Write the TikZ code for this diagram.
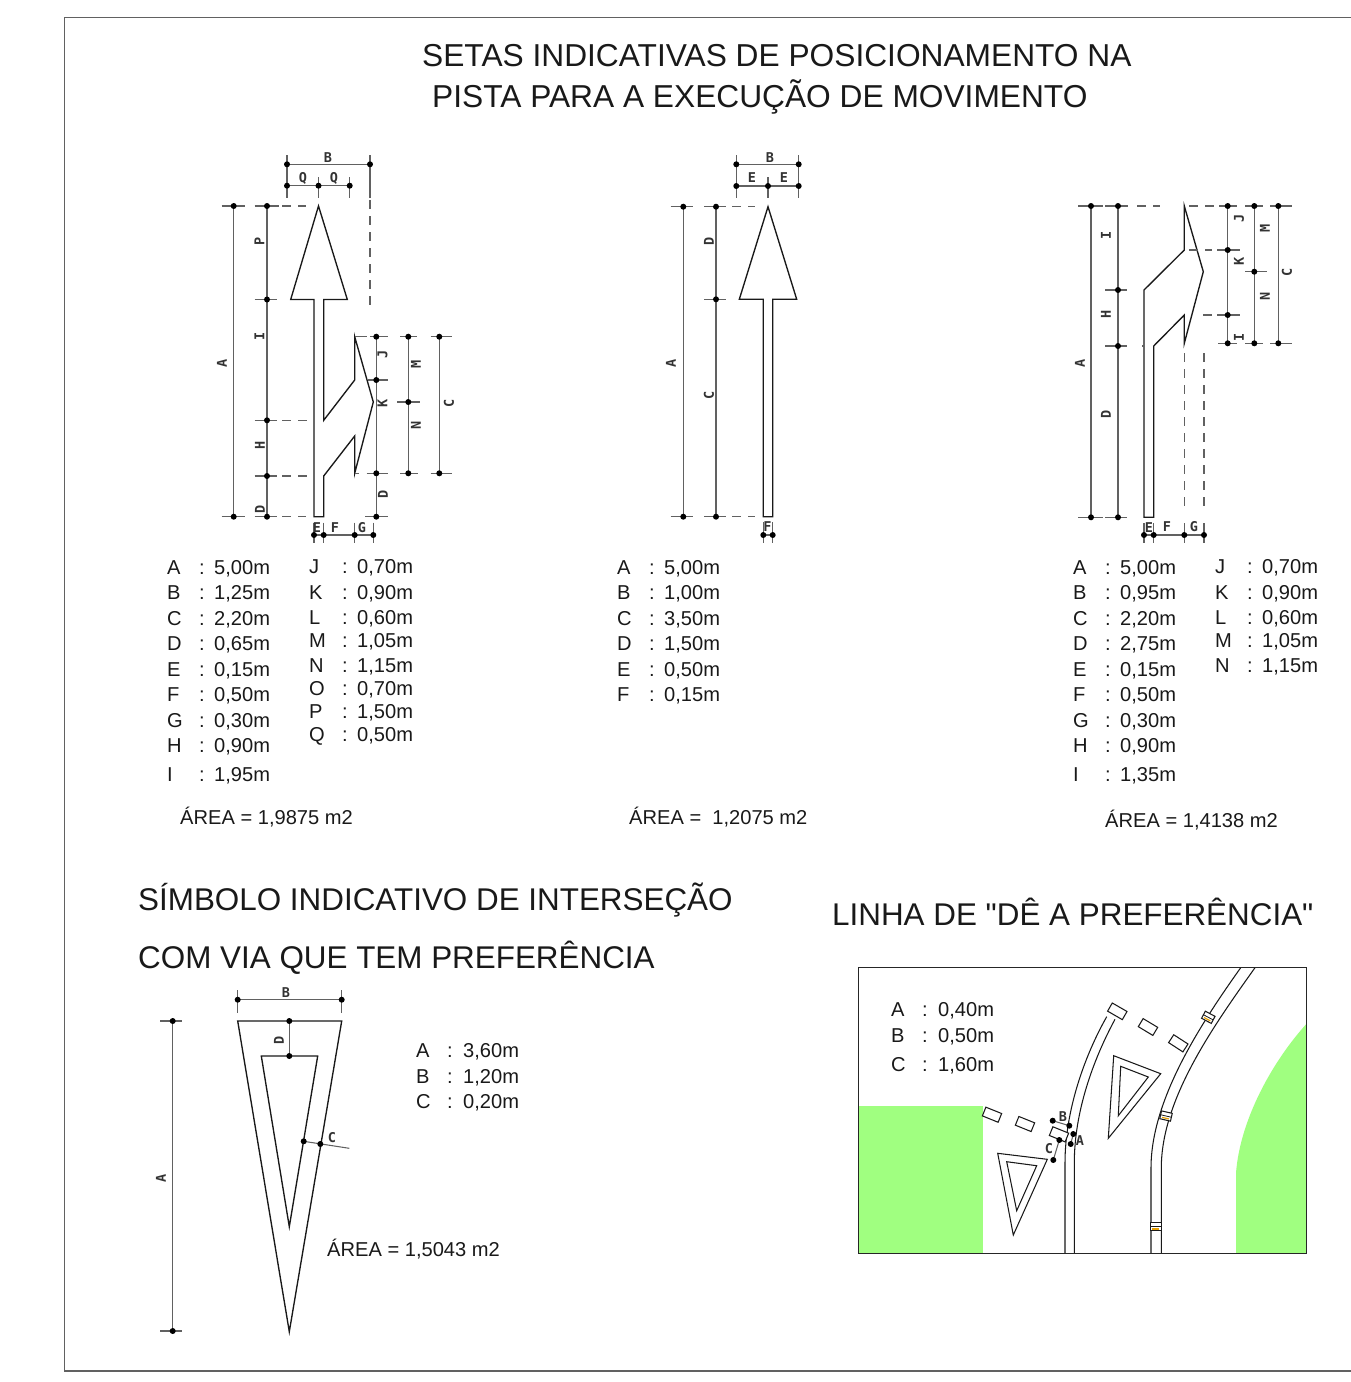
\documentclass[tikz,border=0pt]{standalone}
\usepackage{fontspec}
\setmainfont{Liberation Sans}
\newfontfamily\plainsans{Liberation Sans}
\newfontfamily\cadfont{DejaVu Sans Mono}[BoldFont={DejaVu Sans Mono Bold}]
\newcounter{nn}
\definecolor{grass}{HTML}{A0FF80}
\definecolor{amber}{HTML}{E8A000}
\tikzset{
  shape line/.style={draw=black!90,line width=1.35pt,line join=miter},
  thin shape/.style={draw=black!90,line width=1.05pt},
  dim line/.style={draw=black!62,line width=1.05pt},
  dim dash/.style={dim line,dash pattern=on 9pt off 7pt},
  cad/.style={font=\cadfont\bfseries\fontsize{13.5}{13.5}\selectfont,inner sep=0pt,text=black!80},
  cadr/.style={cad,rotate=90},
  big text/.style={font=\plainsans\fontsize{31.7}{32}\selectfont,anchor=base west,inner sep=0pt,text=black!90},
  big lower/.style={font=\plainsans\fontsize{31.4}{32}\selectfont,anchor=base west,inner sep=0pt,text=black!90},
  list text/.style={font=\plainsans\fontsize{20.1}{21}\selectfont,anchor=base west,inner sep=0pt,text=black!90},
}
\newcommand{\dotsat}[1]{\foreach \p in {#1} \fill[black] \p circle (3pt);}
\newcommand{\lst}[6]{% xletter xcolon xvalue ycentre letter value
  \stepcounter{nn}\node[list text] (l\thenn) at (#1,#4+6.5) {#5};
  \stepcounter{nn}\node[list text] (l\thenn) at (#2-1,#4+6.5) {:};
  \stepcounter{nn}\node[list text] (l\thenn) at (#3,#4+6.5) {#6};}
\newcommand{\chz}[3]{\stepcounter{nn}\node[cad] (c\thenn) at (#1,#2) {#3};}
\newcommand{\cvt}[3]{\stepcounter{nn}\node[cadr] (c\thenn) at (#1,#2) {#3};}
\newcommand{\yrect}[3]{\draw[thin shape,fill=white,shift={(#1,#2)},rotate=-#3] (-8.5,-4.7) rectangle (8.5,4.7);}
\newcommand{\stud}[3]{\begin{scope}[shift={(#1,#2)},rotate=-#3]
  \draw[thin shape,fill=white] (-5.5,-4) rectangle (5.5,4);
  \draw[thin shape,line width=.8pt] (-5.5,0) -- (5.5,0);
  \draw[amber,line width=1.2pt] (-3.5,2.2) -- (3.5,2.2);
  \end{scope}}
\begin{document}
\begin{tikzpicture}[x=1pt,y=-1pt]
\useasboundingbox (0,0) rectangle (1351,1382);
\fill[white] (0,0) rectangle (1351,1382);
% frame
\draw[dim line] (1351,17.5) -- (64.5,17.5) -- (64.5,1371) -- (1351,1371);
% titles
\node[big text] (t1) at (422,66) {SETAS INDICATIVAS DE POSICIONAMENTO NA};
\node[big text] (t2) at (432,107) {PISTA PARA A EXECUÇÃO DE MOVIMENTO};
\node[big lower] (t3) at (138,910) {SÍMBOLO INDICATIVO DE INTERSEÇÃO};
\node[big lower] (t4) at (138,968) {COM VIA QUE TEM PREFERÊNCIA};
\node[big lower] (t5) at (832,925) {LINHA DE "DÊ A PREFERÊNCIA"};
% ---------- arrow 1
\draw[shape line] (318.5,206) -- (347.3,299.5) -- (323.7,299.5) -- (323.7,420.3) -- (354.7,380) -- (354.7,336.7) -- (373.3,402) -- (354.7,473.3) -- (354.7,436) -- (323.7,476) -- (323.7,516.7) -- (314,516.7) -- (314,299.5) -- (290.7,299.5) -- cycle;
\draw[dim line] (233.7,206) -- (233.7,516.7) (221.7,206) -- (245,206) (221.7,516.7) -- (245,516.7);
\draw[dim line] (267,206) -- (267,516.7) (254.7,206) -- (279,206) (254.7,299.5) -- (276.7,299.5) (254.7,420.3) -- (277,420.3) (254.7,476) -- (277,476) (254.7,516.7) -- (277,516.7);
\draw[dim dash] (282,206) -- (306,206) (282,420.3) -- (314,420.3) (282,476) -- (314,476) (282,516.7) -- (306,516.7);
\dotsat{(233.7,206),(233.7,516.7),(267,206),(267,299.5),(267,420.3),(267,476),(267,516.7)}
\draw[dim line] (287,164.3) -- (370,164.3) (287,185.7) -- (349.7,185.7) (287,155) -- (287,198) (370,155) -- (370,198) (318.5,177) -- (318.5,198) (349.7,177) -- (349.7,198);
\draw[dim dash] (370,200) -- (370,306);
\dotsat{(287,164.3),(370,164.3),(287,185.7),(318.5,185.7),(349.7,185.7)}
\chz{328}{158}{B}\chz{303}{178}{Q}\chz{334}{178}{Q}
\cvt{222}{363}{A}\cvt{259.5}{241}{P}\cvt{259.5}{336}{I}\cvt{260}{445}{H}\cvt{260}{509}{D}
\draw[dim line] (376.3,336.7) -- (376.3,516.7) (408.3,336.7) -- (408.3,473.3) (439.3,336.7) -- (439.3,473.3);
\draw[dim line] (370,336.7) -- (388,336.7) (400,336.7) -- (417,336.7) (430.7,336.7) -- (452,336.7)
 (368,380) -- (388,380) (397,402) -- (420,402) (366.7,473.3) -- (388,473.3) (400,473.3) -- (418,473.3) (430.7,473.3) -- (452,473.3) (365,516.7) -- (388,516.7);
\draw[dim line] (355,336.7) -- (367,336.7) (355,473.3) -- (359,473.3);
\dotsat{(376.3,336.7),(376.3,380),(376.3,473.3),(376.3,516.7),(408.3,336.7),(408.3,402),(408.3,473.3),(439.3,336.7),(439.3,473.3)}
\cvt{382.5}{354}{J}\cvt{382.5}{403}{K}\cvt{416}{364}{M}\cvt{416}{425}{N}\cvt{449}{403}{C}\cvt{383}{494}{D}
\draw[dim line] (312,535) -- (376,535) (314,522.7) -- (314,543) (323.7,522.7) -- (323.7,543) (354.7,522.7) -- (354.7,543) (373.3,522.7) -- (373.3,543);
\dotsat{(314,535),(323.7,535),(354.7,535),(373.3,535)}
\chz{317}{528}{E}\chz{335}{528}{F}\chz{362}{528}{G}
\lst{167}{200}{214}{568}{A}{5,00m}\lst{167}{200}{214}{593}{B}{1,25m}\lst{167}{200}{214}{619}{C}{2,20m}
\lst{167}{200}{214}{644}{D}{0,65m}\lst{167}{200}{214}{670}{E}{0,15m}\lst{167}{200}{214}{695}{F}{0,50m}
\lst{167}{200}{214}{721}{G}{0,30m}\lst{167}{200}{214}{746}{H}{0,90m}\lst{167}{200}{214}{775}{I}{1,95m}
\lst{309}{343}{357}{567}{J}{0,70m}\lst{309}{343}{357}{593}{K}{0,90m}\lst{309}{343}{357}{618}{L}{0,60m}
\lst{309}{343}{357}{641}{M}{1,05m}\lst{309}{343}{357}{666}{N}{1,15m}\lst{309}{343}{357}{689}{O}{0,70m}
\lst{309}{343}{357}{712}{P}{1,50m}\lst{309}{343}{357}{735}{Q}{0,50m}
\node[list text] (a1) at (180,824) {ÁREA = 1,9875 m2};
% ---------- arrow 2
\draw[shape line] (768,206.7) -- (796.7,299.3) -- (772.7,299.3) -- (772.7,516.7) -- (763.3,516.7) -- (763.3,299.3) -- (739.3,299.3) -- cycle;
\draw[dim line] (683.3,206.7) -- (683.3,516.7) (670.7,206.7) -- (692.7,206.7) (670.7,516.7) -- (692.7,516.7);
\draw[dim line] (716,206.7) -- (716,516.7) (704,206.7) -- (726,206.7) (704,299.3) -- (726,299.3) (704,516.7) -- (726,516.7);
\draw[dim dash] (732,206.7) -- (755,206.7) (732,516.7) -- (755,516.7);
\dotsat{(683.3,206.7),(683.3,516.7),(716,206.7),(716,299.3),(716,516.7)}
\draw[dim line] (736.3,164.3) -- (798.7,164.3) (736.3,186) -- (798.7,186) (736.3,155) -- (736.3,198) (798.7,155) -- (798.7,198) (768,177) -- (768,198);
\dotsat{(736.3,164.3),(798.7,164.3),(736.3,186),(768,186),(798.7,186)}
\chz{770}{158}{B}\chz{752}{178}{E}\chz{784}{178}{E}
\cvt{671}{363}{A}\cvt{709}{241}{D}\cvt{709}{395}{C}
\draw[dim line] (761,535) -- (775,535) (763.3,522) -- (763.3,543) (772.7,522) -- (772.7,543);
\dotsat{(763.3,535),(772.7,535)}
\chz{767.5}{527}{F}
\lst{617}{650}{664}{568}{A}{5,00m}\lst{617}{650}{664}{593}{B}{1,00m}\lst{617}{650}{664}{619}{C}{3,50m}
\lst{617}{650}{664}{644}{D}{1,50m}\lst{617}{650}{664}{670}{E}{0,50m}\lst{617}{650}{664}{695}{F}{0,15m}
\node[list text] (a2) at (629,824) {ÁREA =\ \ 1,2075 m2};
% ---------- arrow 3
\draw[shape line] (1184.3,206) -- (1203.3,271.7) -- (1184.3,343.3) -- (1184.3,315) -- (1153.7,346) -- (1153.7,517.3) -- (1144,517.3) -- (1144,290) -- (1184.3,250) -- cycle;
\draw[dim line] (1091,206) -- (1091,517.3) (1078,206) -- (1103,206) (1078,517.3) -- (1103,517.3);
\draw[dim line] (1118,206) -- (1118,517.3) (1105,206) -- (1128,206) (1105,290) -- (1127,290) (1105,346) -- (1127,346) (1105,517.3) -- (1127,517.3);
\draw[dim line] (1142,346) -- (1144,346);
\draw[dim dash] (1137,206) -- (1160,206);
\dotsat{(1091,206),(1091,517.3),(1118,206),(1118,290),(1118,346),(1118,517.3)}
\cvt{1080}{363}{A}\cvt{1106}{235}{I}\cvt{1106}{314}{H}\cvt{1106}{414}{D}
\draw[dim dash] (1189,206) -- (1225,206) (1189,250) -- (1212,250) (1203,315) -- (1212,315);
\draw[dim line] (1227.7,206) -- (1227.7,343.3) (1254.3,206) -- (1254.3,343.3) (1278.3,206) -- (1278.3,343.3);
\draw[dim line] (1219,206) -- (1237,206) (1245,206) -- (1263,206) (1270,206) -- (1292,206)
 (1217,250) -- (1240,250) (1217,315) -- (1240,315) (1245,271.7) -- (1267,271.7)
 (1218,343.3) -- (1237,343.3) (1245,343.3) -- (1263,343.3) (1270,343.3) -- (1292,343.3);
\dotsat{(1227.7,206),(1227.7,250),(1227.7,315),(1227.7,343.3),(1254.3,206),(1254.3,271.7),(1254.3,343.3),(1278.3,206),(1278.3,343.3)}
\cvt{1239}{218}{J}\cvt{1239}{261}{K}\cvt{1239}{337}{I}\cvt{1265}{228}{M}\cvt{1265}{296}{N}\cvt{1287}{272}{C}
\draw[dim dash] (1184.3,353) -- (1184.3,507) (1204,353) -- (1204,507);
\draw[dim line] (1142,535) -- (1206,535) (1144,523) -- (1144,543) (1153.7,523) -- (1153.7,543) (1184.3,523) -- (1184.3,543) (1204,523) -- (1204,543);
\dotsat{(1144,535),(1153.7,535),(1184.3,535),(1204,535)}
\chz{1149}{528}{E}\chz{1167}{527}{F}\chz{1194}{527}{G}
\lst{1073}{1106}{1120}{568}{A}{5,00m}\lst{1073}{1106}{1120}{593}{B}{0,95m}\lst{1073}{1106}{1120}{619}{C}{2,20m}
\lst{1073}{1106}{1120}{644}{D}{2,75m}\lst{1073}{1106}{1120}{670}{E}{0,15m}\lst{1073}{1106}{1120}{695}{F}{0,50m}
\lst{1073}{1106}{1120}{721}{G}{0,30m}\lst{1073}{1106}{1120}{746}{H}{0,90m}\lst{1073}{1106}{1120}{775}{I}{1,35m}
\lst{1215}{1248}{1262}{567}{J}{0,70m}\lst{1215}{1248}{1262}{593}{K}{0,90m}\lst{1215}{1248}{1262}{618}{L}{0,60m}
\lst{1215}{1248}{1262}{641}{M}{1,05m}\lst{1215}{1248}{1262}{666}{N}{1,15m}
\node[list text] (a3) at (1105,827) {ÁREA = 1,4138 m2};
% ---------- triangle symbol
\draw[shape line] (237.7,1021) -- (341.7,1021) -- (289.3,1331.7) -- cycle;
\draw[shape line] (261.3,1056) -- (317.7,1056) -- (289.3,1226.7) -- cycle;
\draw[dim line] (172.7,1021) -- (172.7,1331) (160,1021) -- (182,1021) (160,1331) -- (182,1331);
\draw[dim line] (237.7,999.7) -- (341.7,999.7) (237.7,990) -- (237.7,1013) (341.7,990) -- (341.7,1013);
\draw[dim line] (289.3,1021) -- (289.3,1056);
\draw[dim line] (303.7,1141.3) -- (349.3,1148.3);
\dotsat{(172.7,1021),(172.7,1331),(237.7,999.7),(341.7,999.7),(289.3,1021),(289.3,1056),(303.7,1141.3),(320.3,1144)}
\chz{286}{993}{B}\chz{332}{1138}{C}\cvt{279}{1040}{D}\cvt{161}{1178}{A}
\lst{416}{448}{463}{1051}{A}{3,60m}\lst{416}{448}{463}{1077}{B}{1,20m}\lst{416}{448}{463}{1102}{C}{0,20m}
\node[list text] (a4) at (327,1256) {ÁREA = 1,5043 m2};
% ---------- yield line panel
\fill[grass] (858.3,1105.5) -- (982.7,1105.5) -- (982.7,1253.3) -- (858.3,1253.3) -- cycle;
\fill[grass] (1236,1253.3) -- (1236,1173) .. controls (1240,1120) and (1272,1062) .. (1306.3,1024) -- (1306.3,1253.3) -- cycle;
\draw[thin shape] (1065,1253.3) -- (1065,1163) .. controls (1065,1110) and (1085,1055) .. (1106.7,1016.7);
\draw[thin shape] (1074.3,1253.3) -- (1074.3,1163) .. controls (1074.3,1112) and (1093,1060) .. (1115,1019.3);
\draw[thin shape] (1151,1253.3) -- (1151,1168) .. controls (1151,1100) and (1200,1025) .. (1240.7,967.7);
\draw[thin shape] (1161.3,1253.3) -- (1161.3,1168) .. controls (1161.3,1100) and (1212,1028) .. (1255,967.7);
\stud{1208.3}{1017.3}{28}\stud{1166}{1116}{13}\stud{1155.7}{1226.7}{0}
\yrect{992}{1114.7}{22}\yrect{1025}{1124}{22}\yrect{1059}{1134.3}{22}
\yrect{1117.3}{1011.3}{30}\yrect{1148}{1027}{31}\yrect{1178.3}{1043.3}{33}
\draw[thin shape] (997.7,1153.3) -- (1047.3,1159.3) -- (1013.3,1235) -- cycle;
\draw[thin shape] (1006.7,1161.7) -- (1036.7,1165.7) -- (1016.7,1210.7) -- cycle;
\draw[thin shape] (1113.7,1055.7) -- (1160.7,1073.7) -- (1108.3,1138.3) -- cycle;
\draw[thin shape] (1120.7,1066.3) -- (1148.3,1077) -- (1118.3,1115.7) -- cycle;
\draw[dim line] (1052.7,1120.7) -- (1069.3,1125.7) (1073.3,1134) -- (1070.7,1144) (1059.3,1140) -- (1053.3,1160);
\dotsat{(1052.7,1120.7),(1069.3,1125.7),(1073.3,1134),(1070.7,1144),(1059.3,1140),(1053.3,1160)}
\chz{1063}{1117}{B}\chz{1080}{1141}{A}\chz{1049}{1149}{C}
\draw[line width=1.2pt,draw=black!85] (858.3,967.7) rectangle (1306.3,1253.3);
\lst{891}{923}{938}{1010}{A}{0,40m}\lst{891}{923}{938}{1036}{B}{0,50m}\lst{891}{923}{938}{1065}{C}{1,60m}
\end{tikzpicture}
\end{document}
